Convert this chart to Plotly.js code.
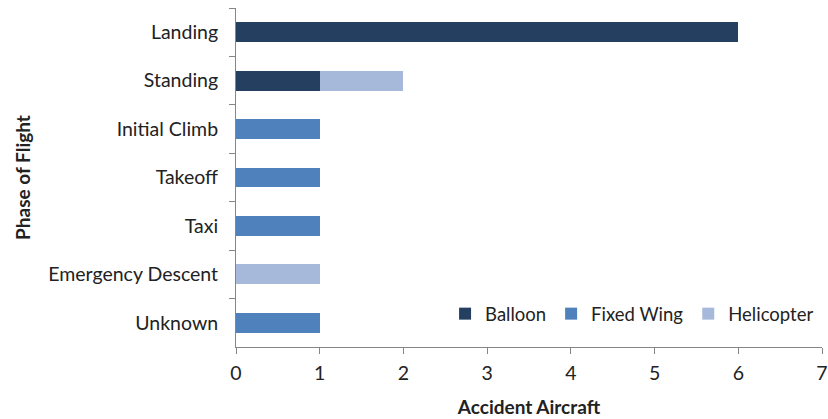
<!DOCTYPE html>
<html>
<head>
<meta charset="utf-8">
<script src="https://cdn.plot.ly/plotly-3.0.1.min.js"></script>
<style>html,body{margin:0;padding:0;background:#fff;}#chart{width:828px;height:419px;}</style>
</head>
<body>
<div id="chart"></div>
<script>
const phases = ["Landing", "Standing", "Initial Climb", "Takeoff", "Taxi", "Emergency Descent", "Unknown"];
const balloon = [6, 1, 0, 0, 0, 0, 0];
const fixedWing = [0, 0, 1, 1, 1, 0, 1];
const helicopter = [0, 1, 0, 0, 0, 1, 0];
const xTicks = [0, 1, 2, 3, 4, 5, 6, 7];

const font = "Lato, 'Open Sans', sans-serif";
const traces = [
  {name: "Balloon", x: balloon, y: phases, color: "#243F60"},
  {name: "Fixed Wing", x: fixedWing, y: phases, color: "#4F81BD"},
  {name: "Helicopter", x: helicopter, y: phases, color: "#A7B9DB"}
].map(s => ({
  type: "bar", orientation: "h", name: s.name, x: s.x, y: s.y,
  marker: {color: s.color, line: {width: 0}}, hoverinfo: "x+y+name"
}));

const layout = {
  width: 828, height: 419,
  margin: {l: 236, r: 6, t: 8, b: 72},
  barmode: "stack", bargap: 0.59,
  paper_bgcolor: "#fff", plot_bgcolor: "#fff",
  font: {family: font, size: 20, color: "#222"},
  showlegend: true,
  legend: {orientation: "h", x: 0.995, xanchor: "right", y: 0.097, yanchor: "middle",
           traceorder: "normal", font: {size: 18.5, color: "#222"}, bgcolor: "rgba(0,0,0,0)",
           itemwidth: 30},
  xaxis: {range: [0, 7], tickvals: xTicks, ticktext: xTicks.map(String), showgrid: false, zeroline: false,
          showline: true, linecolor: "#868686", linewidth: 1, ticks: "outside", ticklen: 6,
          tickcolor: "#868686", tickfont: {size: 19.5}, fixedrange: true, ticklabelstandoff: 3,
          title: {text: "<b>Accident Aircraft</b>", font: {size: 19}, standoff: 17}},
  yaxis: {autorange: "reversed", type: "category", showgrid: false, zeroline: false,
          showline: true, linecolor: "#868686", linewidth: 1, ticks: "outside", ticklen: 6,
          tickcolor: "#868686", tickson: "boundaries", tickfont: {size: 19.5}, fixedrange: true,
          ticklabelstandoff: 13,
          title: {text: "<b>Phase of Flight</b>", font: {size: 19}, standoff: 12}}
};

Plotly.newPlot("chart", traces, layout, {displayModeBar: false, staticPlot: true});
</script>
</body>
</html>
